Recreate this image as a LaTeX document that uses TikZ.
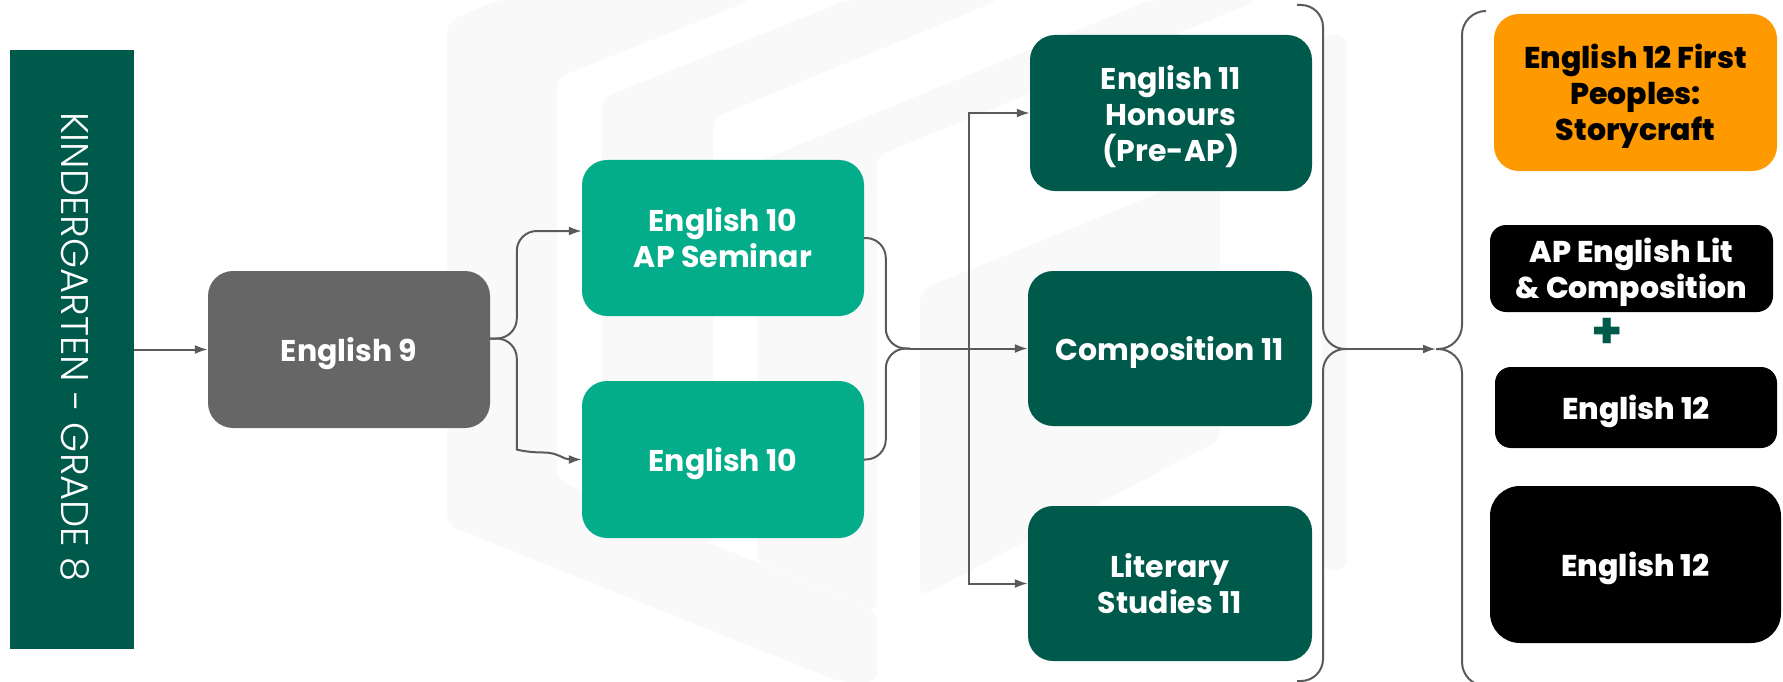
\documentclass[tikz,border=0pt]{standalone}
\usepackage{fontspec}
\setmainfont{Poppins}
\newfontfamily\lightfont{Poppins Light}
\newfontfamily\xboldfont{Poppins ExtraBold}
\usetikzlibrary{arrows.meta,calc}
\definecolor{dkgreen}{RGB}{0,90,76}
\definecolor{tealten}{RGB}{3,173,138}
\definecolor{grayfill}{RGB}{102,102,102}
\definecolor{orangetw}{RGB}{255,153,0}
\definecolor{conncol}{RGB}{90,90,90}
\definecolor{wm}{RGB}{249,249,249}
\tikzset{
  box/.style={rectangle, rounded corners=25pt, align=center, text=white,
    font=\fontsize{30}{36}\selectfont\bfseries, inner sep=0pt},
  xbox/.style={box, font=\xboldfont\fontsize{30}{36}\selectfont},
  oneline/.style={text depth=0pt},
  conn/.style={draw=conncol, line width=2pt},
  arr/.style={conn, -{Latex[length=13pt,width=9pt]}},
  wmshape/.style={fill=wm, draw=none, rounded corners=10pt},
}
\begin{document}
\begin{tikzpicture}[x=1pt,y=-1pt]
\useasboundingbox (0,0) rectangle (1783,682);
% watermark
\fill[wmshape] (447,22) -- (497,0) -- (752,0) -- (557,78) -- (557,480) -- (877,612) -- (877,682) -- (840,682) -- (447,525) -- cycle;
\fill[wmshape] (602,98) -- (847,0) -- (1000,0) -- (713,118) -- (713,545) -- (602,499) -- cycle;
\fill[wmshape] (757,162) -- (1150,0) -- (1260,0) -- (877,156) -- (877,612) -- (757,562) -- cycle;
\fill[wmshape] (920,290) -- (1220,168) -- (1220,440) -- (920,597) -- cycle;
\fill[wmshape] (1322,35) rectangle (1347,570);

% nodes
\node[fill=dkgreen, minimum width=124pt, minimum height=599pt, inner sep=0pt] (bar) at (72,349.5) {};
\node[rotate=-90, text=white, font=\lightfont\fontsize{38.5}{42}\selectfont, inner sep=0pt] (kg) at (75,347) {KINDERGARTEN - GRADE 8};

\node[box, oneline, fill=grayfill, minimum width=282pt, minimum height=157pt] (e9) at (349,349.5) {English 9};
\node[box, fill=tealten, minimum width=282pt, minimum height=156pt] (e10ap) at (723,238) {English 10\\AP Seminar};
\node[box, oneline, fill=tealten, minimum width=282pt, minimum height=157pt] (e10) at (723,459.5) {English 10};
\node[box, oneline, fill=dkgreen, minimum width=282pt, minimum height=156pt] (e11h) at (1171,113) {English 11\\Honours\\(Pre-AP)};
\node[box, oneline, fill=dkgreen, minimum width=284pt, minimum height=155pt] (c11) at (1170,348.5) {Composition 11};
\node[box, fill=dkgreen, minimum width=284pt, minimum height=155pt] (ls11) at (1170,583.5) {Literary\\Studies 11};

\node[xbox, oneline, fill=orangetw, text=black, minimum width=283pt, minimum height=157pt] (fp) at (1635.5,92.5) {English 12 First\\Peoples:\\Storycraft};
\node[xbox, oneline, fill=black, rounded corners=16pt, minimum width=283pt, minimum height=87pt] (ap) at (1631.5,268.5) {AP English Lit\\\& Composition};
\node[text=dkgreen, font=\fontsize{50}{50}\selectfont\bfseries, inner sep=0pt] (plus) at (1607,333) {+};
\node[xbox, oneline, fill=black, rounded corners=16pt, minimum width=282pt, minimum height=81pt] (e12a) at (1636,407.5) {English 12};
\node[xbox, oneline, fill=black, rounded corners=30pt, minimum width=291pt, minimum height=157pt] (e12b) at (1635.5,564.5) {English 12};

% connectors
\draw[arr] (bar.east) -- (e9.west);
\coordinate (e9out) at ($(e9.east)+(0,-11)$);
\draw[arr, rounded corners=20pt] (e9out) -| ($(e10ap.west)+(-65,-7)$) -- ($(e10ap.west)+(0,-7)$);
\draw[arr] [rounded corners=20pt] (e9out) -| ($(e10.west)+(-65,-30)$) [sharp corners]
   .. controls ($(e10.west)+(-65,-10)$) and ($(e10.west)+(-55,-7)$) .. ($(e10.west)+(-38,-7)$)
   .. controls ($(e10.west)+(-24,-7)$) and ($(e10.west)+(-18,0)$) .. (e10.west);

\coordinate (merge) at ($(c11.west)+(-118,0)$);
\draw[conn, rounded corners=20pt] (e10ap.east) -| ($(merge)+(-24,0)$) -- (merge);
\draw[conn, rounded corners=20pt] (e10.east) -| ($(merge)+(-24,0)$) -- (merge);
\draw[arr] (merge) -- (c11.west);
\coordinate (bus) at ($(c11.west)+(-59,0)$);
\draw[arr] (bus) |- (e11h.west);
\draw[arr] (bus) |- (ls11.west);

% braces
\coordinate (rbtop) at (1297,5);
\coordinate (rbbot) at (1297,681);
\coordinate (rbtip) at (1345,349);
\coordinate (lbtop) at (1486,11);
\coordinate (lbbot) at (1486,686);
\coordinate (lbtip) at (1436,349);
\draw[conn, rounded corners=22pt] (rbtop) -| (1323,349) -- (rbtip);
\draw[conn, rounded corners=22pt] (rbbot) -| (1323,349) -- (rbtip);
\draw[conn, rounded corners=24pt] (lbtop) -| (1462,349) -- (lbtip);
\draw[conn, rounded corners=24pt] (lbbot) -| (1462,349) -- (lbtip);
\draw[arr] (rbtip) -- (lbtip);
\end{tikzpicture}
\end{document}
